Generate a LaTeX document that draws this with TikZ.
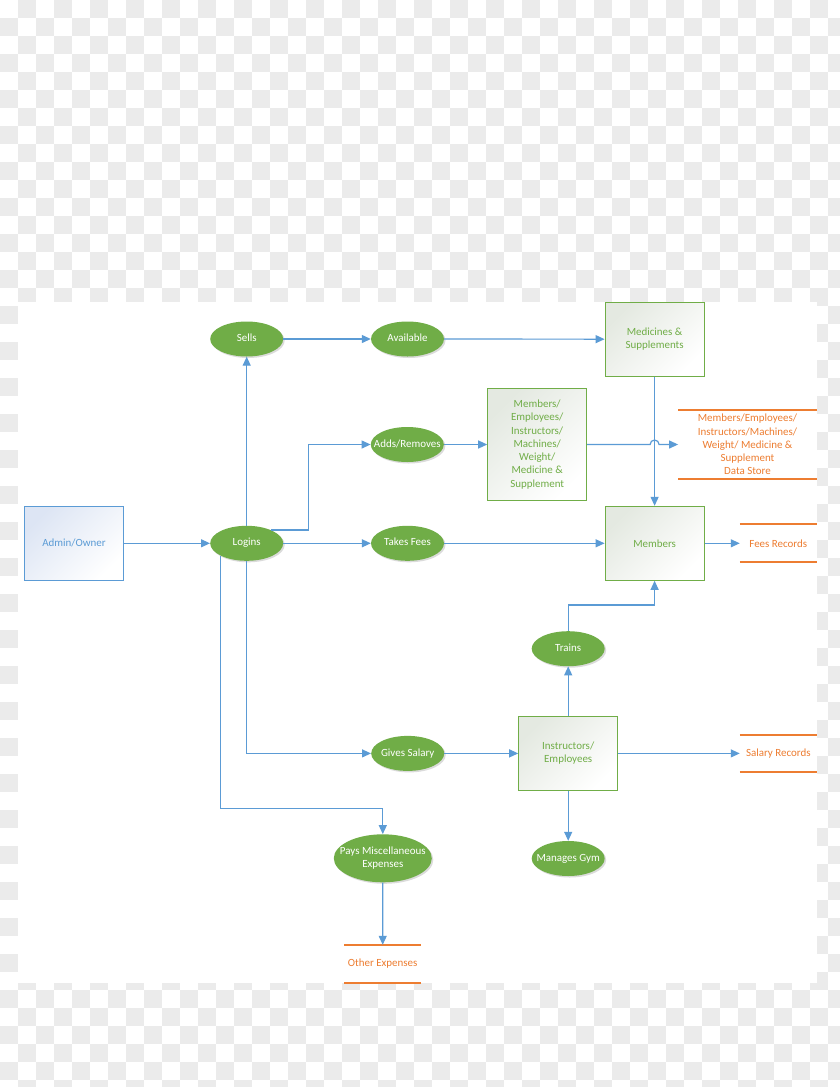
\documentclass[tikz,border=0pt]{standalone}
\usepackage{fontspec}
\setmainfont{Carlito}
\usetikzlibrary{arrows.meta,shapes.geometric,shadows,calc}
\definecolor{flow}{HTML}{5B9BD5}
\definecolor{pgreen}{HTML}{70AD47}
\definecolor{orng}{HTML}{ED7D31}
\definecolor{chk}{HTML}{EBEBEB}
\definecolor{entfill}{HTML}{E4E9E1}
\definecolor{adminfill}{HTML}{DDE5F4}
\newcommand\zw[1]{\makebox[0pt]{\begin{tabular}{@{}c@{}}#1\end{tabular}}}
\begin{document}
\begin{tikzpicture}[x=1bp,y=-1bp,
  every node/.style={font=\fontsize{11}{13.3}\selectfont, align=center, inner sep=0pt},
  proc/.style={ellipse, fill=pgreen, text=white, minimum width=73bp, minimum height=35bp,
    drop shadow={shadow xshift=1.5bp, shadow yshift=-1.5bp, opacity=0.35, fill=black!40}},
  ent/.style={rectangle, draw=pgreen, line width=1bp, text=pgreen, minimum width=99bp, minimum height=74bp,
    top color=entfill, bottom color=white, shading angle=45},
  adminbox/.style={rectangle, draw=flow, line width=1bp, text=flow, minimum width=99bp, minimum height=74bp,
    top color=adminfill, bottom color=white, shading angle=45},
  store/.style={rectangle, text=orng},
  sline/.style={draw=orng, line width=2bp},
  arr/.style={draw=flow, line width=1.2bp, -{Triangle[length=9bp,width=8bp]}},
]
\useasboundingbox (0,0) rectangle (840,1087);
\begin{scope}
\clip (0,0) rectangle (840,1087);
\foreach \i in {0,...,46}{
  \foreach \j in {0,...,60}{
    \pgfmathtruncatemacro{\chkpar}{mod(\i+\j,2)}
    \ifnum\chkpar=1 \fill[chk] (\i*18,\j*18) rectangle ++(18,18);\fi
  }
}
\end{scope}
\fill[white] (18,302) rectangle (817,983);

% helper coordinates
\coordinate (k1) at (308.3,0);
\coordinate (k2) at (0,808.3);
\coordinate (k3) at (0,605);

% nodes
\node[adminbox] (admin) at (74,543.3) {Admin/Owner};
\node[proc] (logins) at (246.7,543.3) {\zw{Logins}};
\node[proc] (sells) at (246.7,339) {\zw{Sells}};
\node[proc] (avail) at (407.5,339) {\zw{Available}};
\node[ent] (med) at (654.6,339.2) {Medicines \&\\Supplements};
\node[proc] (adds) at (407.3,444.5) {\zw{Adds/Removes}};
\node[ent, minimum height=112bp] (mrect) at (537.2,444.5) {Members/\\Employees/\\Instructors/\\Machines/\\Weight/\\Medicine \&\\Supplement};
\node[store, minimum width=138.4bp, minimum height=68.3bp] (dstore) at (747.5,444.5) {Members/Employees/\\Instructors/Machines/\\Weight/ Medicine \&\\Supplement\\Data Store};
\node[proc] (fees) at (407.5,543.3) {\zw{Takes Fees}};
\node[ent] (members) at (654.6,543.3) {Members};
\node[store, minimum width=76.7bp, minimum height=37.4bp] (feesrec) at (778.3,543.3) {Fees Records};
\node[proc] (trains) at (568.2,648.7) {\zw{Trains}};
\node[ent] (instr) at (568.2,753.4) {Instructors/\\Employees};
\node[proc] (gives) at (407.7,753.4) {\zw{Gives Salary}};
\node[store, minimum width=76.7bp, minimum height=37.4bp] (salrec) at (778.3,753.4) {Salary Records};
\node[proc] (gym) at (568.2,858.5) {\zw{Manages Gym}};
\node[proc, minimum width=98bp, minimum height=48bp] (pays) at (382.8,858.3) {\zw{Pays Miscellaneous\\Expenses}};
\node[store, minimum width=76.7bp, minimum height=37.4bp] (other) at (382.7,963.7) {Other Expenses};

% data store lines
\foreach \s in {dstore,feesrec,salrec,other}{
  \draw[sline] (\s.north west) -- (\s.north east);
  \draw[sline] (\s.south west) -- (\s.south east);
}

% connectors
\draw[arr] (admin) -- (logins);
\draw[arr] (logins) -- (sells);
\draw[arr] (sells) -- (avail);
\draw[arr] (avail) -- (med);
\draw[arr] (logins.29) -- (logins.29 -| k1) |- (adds.west);
\draw[arr] (adds) -- (mrect);
\draw[arr] (mrect.east) -- ($(mrect.east -| med.south)+(-4.5,0)$) arc[start angle=180,end angle=360,radius=4.5] -- (dstore.west);
\draw[arr] (med) -- (members);
\draw[arr] (logins) -- (fees);
\draw[arr] (fees) -- (members);
\draw[arr] (members) -- (feesrec);
\draw[arr] (trains.north) -- (trains.north |- k3) -| (members.south);
\draw[arr] (instr) -- (trains);
\draw[arr] (logins.south) |- (gives.west);
\draw[arr] (gives) -- (instr);
\draw[arr] (instr) -- (salrec);
\draw[arr] (instr) -- (gym);
\draw[arr] (logins.205) -- (logins.205 |- k2) -| (pays.north);
\draw[arr] (pays) -- (other);
\end{tikzpicture}
\end{document}
